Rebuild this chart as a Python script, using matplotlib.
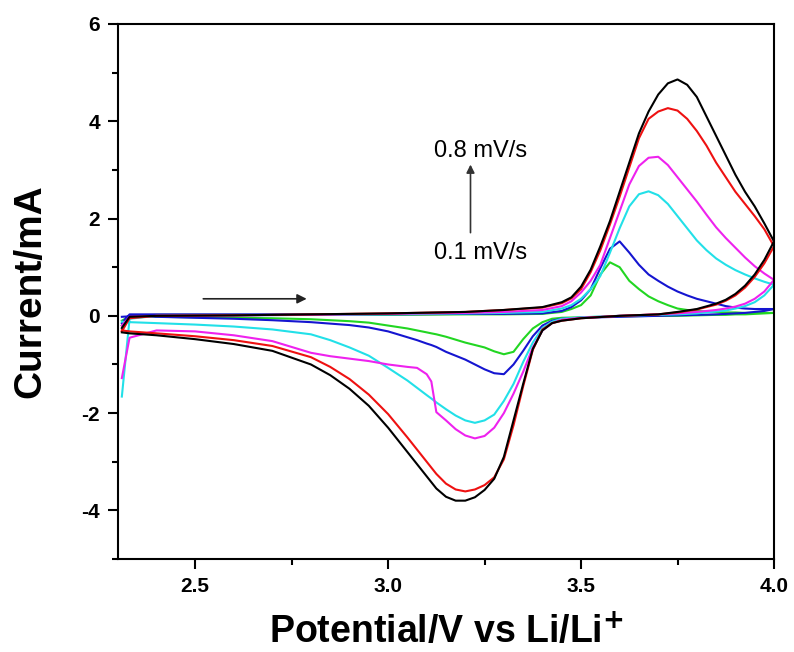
import matplotlib
matplotlib.use("Agg")
import matplotlib.pyplot as plt
from matplotlib.ticker import MultipleLocator

plt.rcParams["font.family"] = ["Liberation Sans", "DejaVu Sans"]
plt.rcParams["axes.unicode_minus"] = False

# Potential grids (V vs Li/Li+) for the anodic and cathodic sweeps
v_anodic = [2.31, 2.33, 2.4, 2.6, 2.8, 3.0, 3.2, 3.3, 3.4, 3.45, 3.475, 3.5,
            3.525, 3.55, 3.575, 3.6, 3.625, 3.65, 3.675, 3.7, 3.725, 3.75,
            3.775, 3.8, 3.825, 3.85, 3.875, 3.9, 3.925, 3.95, 3.975, 4.0]
v_cathodic = [4.0, 3.975, 3.95, 3.925, 3.9, 3.875, 3.85, 3.8, 3.75, 3.7, 3.6,
              3.5, 3.45, 3.425, 3.4, 3.375, 3.35, 3.325, 3.3, 3.275, 3.25,
              3.225, 3.2, 3.175, 3.15, 3.125, 3.112, 3.1, 3.075, 3.05, 3.0,
              2.95, 2.9, 2.85, 2.8, 2.7, 2.6, 2.5, 2.4, 2.33, 2.31]

# Current (mA) at each scan rate
i_an_01 = [-0.2, 0.0, 0.02, 0.02, 0.02, 0.02, 0.03, 0.03, 0.04, 0.08, 0.14, 0.22,
           0.42, 0.85, 1.1, 1.0, 0.72, 0.55, 0.4, 0.3, 0.22, 0.15,
           0.12, 0.1, 0.09, 0.08, 0.07, 0.07, 0.06, 0.06, 0.06, 0.06]
i_ca_01 = [0.06, 0.05, 0.04, 0.03, 0.03, 0.02, 0.02, 0.01, 0.0, 0.0, -0.01,
           -0.03, -0.04, -0.06, -0.13, -0.26, -0.48, -0.74, -0.79, -0.73, -0.65,
           -0.6, -0.55, -0.49, -0.43, -0.38, -0.36, -0.34, -0.3, -0.26, -0.2,
           -0.14, -0.11, -0.09, -0.07, -0.05, -0.04, -0.03, -0.02, -0.01, -0.1]

i_an_02 = [-0.15, 0.03, 0.03, 0.03, 0.03, 0.03, 0.04, 0.04, 0.05, 0.1, 0.18, 0.32,
           0.55, 0.98, 1.38, 1.53, 1.3, 1.05, 0.85, 0.72, 0.6, 0.5,
           0.42, 0.35, 0.3, 0.25, 0.2, 0.17, 0.15, 0.14, 0.14, 0.14]
i_ca_02 = [0.14, 0.1, 0.08, 0.06, 0.05, 0.04, 0.03, 0.02, 0.01, 0.0, -0.02,
           -0.04, -0.06, -0.1, -0.2, -0.42, -0.72, -1.0, -1.2, -1.18, -1.1,
           -1.0, -0.9, -0.82, -0.74, -0.64, -0.6, -0.57, -0.5, -0.44, -0.32,
           -0.24, -0.19, -0.16, -0.13, -0.09, -0.06, -0.04, -0.02, -0.01, -0.02]

i_an_04 = [-1.66, -0.06, 0.0, 0.01, 0.02, 0.03, 0.05, 0.06, 0.08, 0.15, 0.22, 0.35,
           0.55, 0.82, 1.3, 1.8, 2.25, 2.5, 2.56, 2.48, 2.3, 2.05,
           1.8, 1.55, 1.35, 1.18, 1.05, 0.94, 0.85, 0.77, 0.7, 0.64]
i_ca_04 = [0.64, 0.42, 0.28, 0.2, 0.15, 0.11, 0.09, 0.05, 0.03, 0.02, 0.0,
           -0.03, -0.06, -0.12, -0.25, -0.55, -0.95, -1.4, -1.75, -2.03, -2.15,
           -2.2, -2.15, -2.05, -1.92, -1.78, -1.7, -1.63, -1.48, -1.33, -1.07,
           -0.82, -0.65, -0.5, -0.38, -0.28, -0.22, -0.18, -0.15, -0.13, -0.12]

i_an_06 = [-0.2, -0.02, 0.0, 0.01, 0.02, 0.04, 0.06, 0.08, 0.12, 0.2, 0.3, 0.48,
           0.72, 1.05, 1.6, 2.15, 2.7, 3.08, 3.25, 3.27, 3.1, 2.85,
           2.6, 2.35, 2.08, 1.82, 1.6, 1.4, 1.2, 1.02, 0.87, 0.74]
i_ca_06 = [0.74, 0.5, 0.35, 0.25, 0.19, 0.15, 0.12, 0.08, 0.05, 0.03, 0.0,
           -0.04, -0.08, -0.15, -0.3, -0.65, -1.15, -1.6, -2.0, -2.3, -2.47,
           -2.52, -2.46, -2.33, -2.15, -1.98, -1.35, -1.2, -1.07, -1.05, -1.0,
           -0.93, -0.88, -0.83, -0.76, -0.52, -0.4, -0.32, -0.3, -0.45, -1.28]

i_an_07 = [-0.32, -0.05, 0.0, 0.01, 0.03, 0.05, 0.08, 0.12, 0.17, 0.26, 0.36, 0.55,
           0.9, 1.35, 1.88, 2.45, 3.05, 3.65, 4.05, 4.2, 4.27, 4.22,
           4.05, 3.8, 3.5, 3.15, 2.85, 2.55, 2.3, 2.05, 1.78, 1.43]
i_ca_07 = [1.43, 1.08, 0.8, 0.58, 0.42, 0.31, 0.23, 0.13, 0.07, 0.03, 0.0,
           -0.05, -0.1, -0.15, -0.28, -0.7, -1.45, -2.25, -2.95, -3.32, -3.48,
           -3.57, -3.61, -3.57, -3.45, -3.25, -3.12, -3.0, -2.75, -2.5, -2.02,
           -1.62, -1.3, -1.05, -0.85, -0.62, -0.5, -0.42, -0.36, -0.32, -0.3]

i_an_08 = [-0.25, -0.02, 0.0, 0.01, 0.03, 0.05, 0.08, 0.12, 0.18, 0.28, 0.38, 0.6,
           0.95, 1.43, 1.95, 2.55, 3.15, 3.75, 4.2, 4.55, 4.78, 4.86,
           4.75, 4.5, 4.1, 3.7, 3.3, 2.9, 2.55, 2.25, 1.9, 1.53]
i_ca_08 = [1.53, 1.15, 0.85, 0.62, 0.45, 0.33, 0.25, 0.14, 0.08, 0.03, 0.0,
           -0.05, -0.1, -0.15, -0.3, -0.68, -1.4, -2.15, -2.9, -3.35, -3.58,
           -3.73, -3.8, -3.8, -3.72, -3.55, -3.42, -3.3, -3.05, -2.8, -2.3,
           -1.85, -1.5, -1.22, -1.0, -0.72, -0.58, -0.48, -0.4, -0.36, -0.34]

curves = [
    (i_an_01, i_ca_01, "#22d622"),
    (i_an_02, i_ca_02, "#1515d0"),
    (i_an_04, i_ca_04, "#22e0e8"),
    (i_an_06, i_ca_06, "#ee22ee"),
    (i_an_07, i_ca_07, "#ee1111"),
    (i_an_08, i_ca_08, "#000000"),
]

fig = plt.figure(figsize=(7.94, 6.52), dpi=100)
ax = fig.add_axes([0.1486, 0.1426, 0.8262, 0.8206])

for i_an, i_ca, color in curves:
    ax.plot(v_anodic + v_cathodic, i_an + i_ca, color=color, lw=1.5,
            solid_joinstyle="round")

ax.set_xlim(2.3, 4.0)
ax.set_ylim(-5, 6)
ax.xaxis.set_major_locator(MultipleLocator(0.5))
ax.xaxis.set_minor_locator(MultipleLocator(0.25))
ax.yaxis.set_major_locator(MultipleLocator(2))
ax.yaxis.set_minor_locator(MultipleLocator(1))
ax.xaxis.set_major_formatter(plt.FormatStrFormatter("%.1f"))

for s in ax.spines.values():
    s.set_linewidth(1.5)
ax.tick_params(which="major", direction="out", length=7, width=1.5,
               labelsize=15, pad=6)
ax.tick_params(which="minor", direction="out", length=4, width=1.5)
ax.tick_params(top=False, right=False, which="both")
for lab in ax.get_xticklabels() + ax.get_yticklabels():
    lab.set_fontweight("bold")

ax.set_xlabel("Potential/V vs Li/Li$^{\\mathbf{+}}$", fontsize=27,
              fontweight="bold", labelpad=13)
ax.set_ylabel("Current/mA", fontsize=28, fontweight="bold", labelpad=24)

# scan-rate annotation
ax.text(3.239, 3.38, "0.8 mV/s", fontsize=17, ha="center", va="center")
ax.text(3.239, 1.30, "0.1 mV/s", fontsize=17, ha="center", va="center")
ax.annotate("", xy=(3.2135, 3.11), xytext=(3.2135, 1.71),
            arrowprops=dict(arrowstyle="-|>", color="#333333", lw=1.2,
                            mutation_scale=12, shrinkA=0, shrinkB=0))
# sweep direction arrow
ax.annotate("", xy=(2.789, 0.35), xytext=(2.521, 0.35),
            arrowprops=dict(arrowstyle="-|>", color="#222222", lw=1.2,
                            mutation_scale=14, shrinkA=0, shrinkB=0))

fig.savefig("out.png", dpi=100)
